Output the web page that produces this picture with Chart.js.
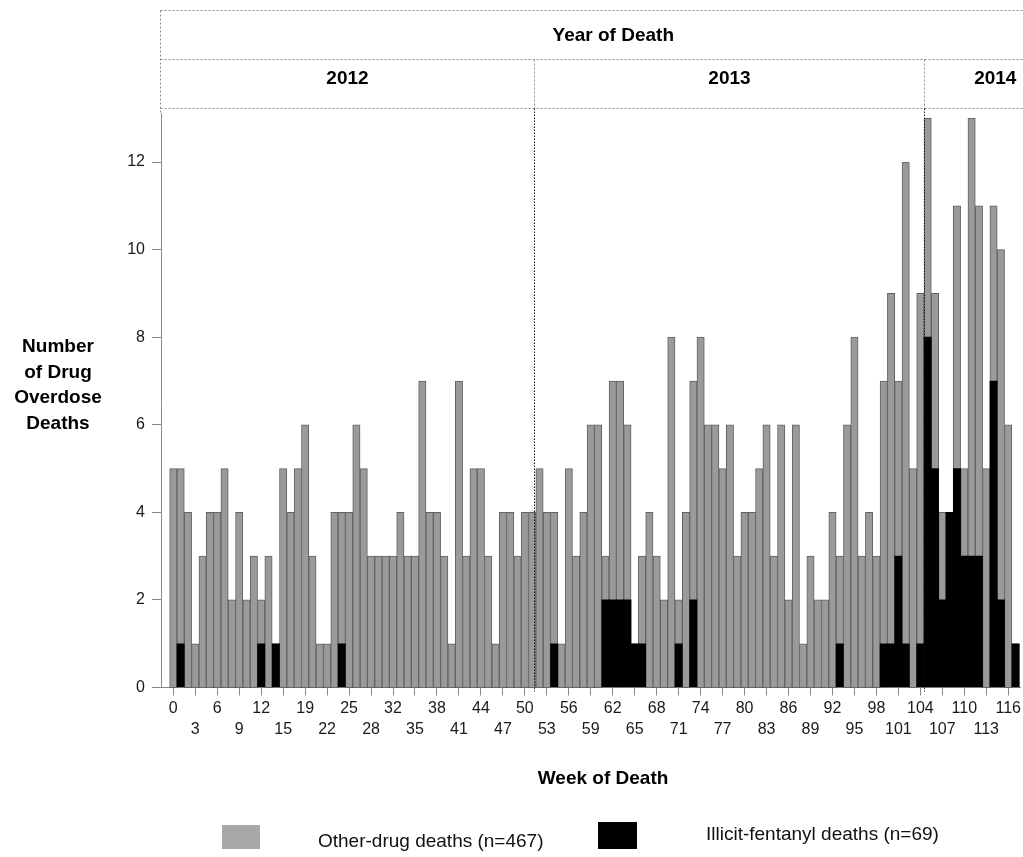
<!DOCTYPE html>
<html>
<head>
<meta charset="utf-8">
<title>Drug overdose deaths by week of death</title>
<script src="https://cdn.jsdelivr.net/npm/chart.js@4.4.1/dist/chart.umd.min.js"></script>
<style>
  html, body { margin: 0; padding: 0; background: #fff; overflow: hidden; }
  #chart { display: block; }
</style>
</head>
<body>
<canvas id="chart" width="1023" height="857"></canvas>
<script>
// Weeks that have at least one death (two empty weeks are not on the axis)
const weeks = [
  0, 1, 2, 3, 4, 5, 6, 7, 8, 9, 10, 11, 12, 13, 14, 15, 16, 18, 19, 20,
  21, 22, 23, 24, 25, 26, 27, 28, 29, 31, 32, 33, 34, 35, 36, 37, 38, 39, 40, 41,
  42, 43, 44, 45, 46, 47, 48, 49, 50, 51, 52, 53, 54, 55, 56, 57, 58, 59, 60, 61,
  62, 63, 64, 65, 66, 67, 68, 69, 70, 71, 72, 73, 74, 75, 76, 77, 78, 79, 80, 81,
  82, 83, 84, 85, 86, 87, 88, 89, 90, 91, 92, 93, 94, 95, 96, 97, 98, 99, 100, 101,
  102, 103, 104, 105, 106, 107, 108, 109, 110, 111, 112, 113, 114, 115, 116, 117
];

// All overdose deaths per week (grey bar height)
const allDeaths = [
  5, 5, 4, 1, 3, 4, 4, 5, 2, 4, 2, 3, 2, 3, 1, 5, 4, 5, 6, 3,
  1, 1, 4, 4, 4, 6, 5, 3, 3, 3, 3, 4, 3, 3, 7, 4, 4, 3, 1, 7,
  3, 5, 5, 3, 1, 4, 4, 3, 4, 4, 5, 4, 4, 1, 5, 3, 4, 6, 6, 3,
  7, 7, 6, 1, 3, 4, 3, 2, 8, 2, 4, 7, 8, 6, 6, 5, 6, 3, 4, 4,
  5, 6, 3, 6, 2, 6, 1, 3, 2, 2, 4, 3, 6, 8, 3, 4, 3, 7, 9, 7,
  12, 5, 9, 13, 9, 4, 4, 11, 5, 13, 11, 5, 11, 10, 6, 1
];

// Illicit-fentanyl deaths per week (black bar height)
const fentanylDeaths = [
  0, 1, 0, 0, 0, 0, 0, 0, 0, 0, 0, 0, 1, 0, 1, 0, 0, 0, 0, 0,
  0, 0, 0, 1, 0, 0, 0, 0, 0, 0, 0, 0, 0, 0, 0, 0, 0, 0, 0, 0,
  0, 0, 0, 0, 0, 0, 0, 0, 0, 0, 0, 0, 1, 0, 0, 0, 0, 0, 0, 2,
  2, 2, 2, 1, 1, 0, 0, 0, 0, 1, 0, 2, 0, 0, 0, 0, 0, 0, 0, 0,
  0, 0, 0, 0, 0, 0, 0, 0, 0, 0, 0, 1, 0, 0, 0, 0, 0, 1, 1, 3,
  1, 0, 1, 8, 5, 2, 4, 5, 3, 3, 3, 0, 7, 2, 0, 1
];

const years = ['2012', '2013', '2014'];
const yearBreaks = [49.2, 102.5];   // axis index where the next year begins
const yTitle = ['Number', 'of Drug', 'Overdose', 'Deaths'];
const legendLabels = ['Other-drug deaths (n=467)', 'Illicit-fentanyl deaths (n=69)'];

const FONT = '"Liberation Sans", Arial, Helvetica, sans-serif';
const GREY = '#9a9a9a';
const GREY_EDGE = '#626262';
const GREY_SWATCH = '#a8a8a8';

function line(ctx, x1, y1, x2, y2) {
  ctx.beginPath();
  ctx.moveTo(x1, y1);
  ctx.lineTo(x2, y2);
  ctx.stroke();
}

// Header panels, year dividers, axis titles and legend
const decorations = {
  id: 'decorations',
  afterDraw(chart) {
    const { ctx, chartArea: area, scales: { x } } = chart;
    const left = 160.5;
    const headerRight = area.right + 46;   // panel runs past the picture edge
    const breaks = yearBreaks.map(v => Math.round(x.getPixelForValue(v)) + 0.5);

    ctx.save();
    ctx.lineWidth = 1;
    ctx.setLineDash([2, 2]);
    ctx.strokeStyle = '#8c8c8c';
    [10.5, 59.5, 108.5].forEach(y => line(ctx, left, y, chart.width, y));
    line(ctx, left, 10.5, left, 113);
    breaks.forEach(bx => line(ctx, bx, 59.5, bx, 108.5));

    ctx.strokeStyle = '#111';
    ctx.setLineDash([1.5, 1.5]);
    breaks.forEach(bx => line(ctx, bx, 108.5, bx, area.bottom + 4));
    ctx.setLineDash([]);

    ctx.fillStyle = '#000';
    ctx.textAlign = 'center';
    ctx.textBaseline = 'middle';
    ctx.font = `bold 19px ${FONT}`;
    ctx.fillText('Year of Death', (left + headerRight) / 2, 36);
    const edges = [left, ...breaks, headerRight];
    years.forEach((yr, i) => ctx.fillText(yr, (edges[i] + edges[i + 1]) / 2, 79));

    yTitle.forEach((t, i) => ctx.fillText(t, 58, 347 + i * 25.5));
    ctx.fillText('Week of Death', (area.left + area.right + 25) / 2, 779);

    // legend
    ctx.font = `19px ${FONT}`;
    ctx.textAlign = 'left';
    ctx.fillStyle = GREY_SWATCH;
    ctx.fillRect(222, 825, 38, 24);
    ctx.fillStyle = '#000';
    ctx.fillRect(598, 822, 39, 27);
    ctx.fillStyle = '#111';
    ctx.fillText(legendLabels[0], 318, 842);
    ctx.fillText(legendLabels[1], 706, 835);
    ctx.restore();
  }
};

new Chart(document.getElementById('chart'), {
  type: 'bar',
  data: {
    datasets: [
      {
        label: legendLabels[1],
        data: fentanylDeaths.map((v, i) => ({ x: i, y: v })),
        backgroundColor: '#000',
        borderWidth: 0,
        order: 0
      },
      {
        label: legendLabels[0],
        data: allDeaths.map((v, i) => ({ x: i, y: v })),
        backgroundColor: GREY,
        borderColor: GREY_EDGE,
        borderWidth: 1,
        order: 1
      }
    ]
  },
  options: {
    responsive: false,
    animation: false,
    layout: { padding: { top: 113, right: 1, left: 0, bottom: 0 } },
    datasets: { bar: { grouped: false, barPercentage: 1, categoryPercentage: 1 } },
    plugins: {
      legend: { display: false },
      tooltip: { enabled: false }
    },
    scales: {
      x: {
        type: 'linear',
        min: -1.68,
        max: 115.62,
        bounds: 'data',
        offset: false,
        grid: { drawOnChartArea: false, drawTicks: true, tickLength: 8, color: '#888', offset: false },
        border: { color: '#888' },
        afterBuildTicks: scale => {
          scale.ticks = weeks.map((w, i) => i).filter(i => i % 3 === 0).map(i => ({ value: i }));
        },
        ticks: {
          autoSkip: false,
          maxRotation: 0,
          padding: 2,
          color: '#1a1a1a',
          font: { family: FONT, size: 16, lineHeight: 1.35 },
          callback: (value, index) => index % 2 === 0 ? String(weeks[value]) : ['', String(weeks[value])]
        },
        afterFit: scale => { scale.height = 169.5; }
      },
      y: {
        min: 0,
        max: 13.12,
        bounds: 'data',
        grid: { drawOnChartArea: false, drawTicks: true, tickLength: 9, color: '#888' },
        border: { color: '#888' },
        afterBuildTicks: scale => {
          scale.ticks = scale.ticks.filter(t => t.value % 2 === 0);
        },
        ticks: {
          stepSize: 2,
          padding: 7,
          color: '#1a1a1a',
          font: { family: FONT, size: 16 }
        },
        afterFit: scale => { scale.width = 161; }
      }
    }
  },
  plugins: [decorations]
});
</script>
</body>
</html>
